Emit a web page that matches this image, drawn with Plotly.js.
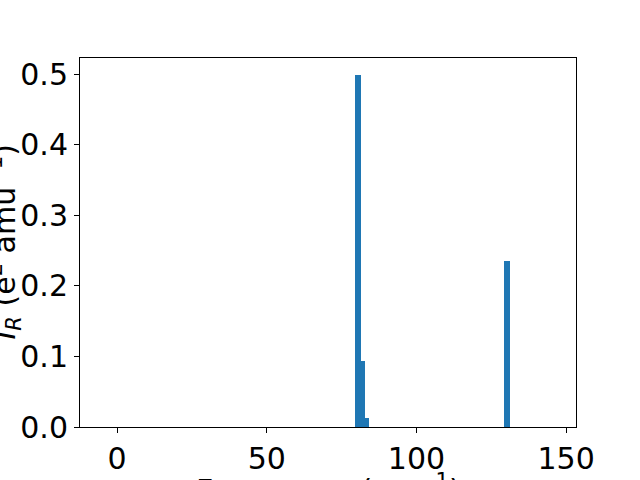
<!DOCTYPE html>
<html>
<head>
<meta charset="utf-8">
<script src="https://cdn.plot.ly/plotly-3.0.1.min.js"></script>
<style>html,body{margin:0;padding:0;background:#fff;}#chart{width:640px;height:480px;}</style>
</head>
<body>
<div id="chart"></div>
<script>
// Frequencies (cm^-1) and IR intensities
const frequencies = [80.5, 82.2, 83.5, 130.3];
const intensities = [0.498, 0.0935, 0.0127, 0.235];
const barWidths = [2.0, 1.4, 1.4, 2.0];
const xTicks = [0, 50, 100, 150];
const yTicks = [0.0, 0.1, 0.2, 0.3, 0.4, 0.5];
const xTitle = 'Frequency (cm<sup>−1</sup>)';
const yTitle = '<i>I</i><sub><i>R</i></sub> (e<sup>2</sup> amu<sup>−1</sup>)';

const font = {family: 'DejaVu Sans', size: 30, color: '#000'};

const axisStyle = {
  ticks: 'outside', ticklen: 5, tickwidth: 1, tickcolor: '#000',
  showline: true, linecolor: '#000', linewidth: 1, mirror: true,
  showgrid: false, zeroline: false,
  tickfont: font,
  automargin: false
};

Plotly.newPlot('chart', [{
  type: 'bar',
  x: frequencies,
  y: intensities,
  width: barWidths,
  marker: {color: '#1f77b4', line: {width: 0}},
  hoverinfo: 'x+y'
}], {
  width: 640, height: 480,
  margin: {l: 80, r: 64, t: 58, b: 53},
  paper_bgcolor: '#fff', plot_bgcolor: '#fff',
  font: font,
  showlegend: false,
  bargap: 0,
  xaxis: Object.assign({
    range: [-12.4, 153.3],
    tickvals: xTicks,
    ticktext: xTicks.map(String)
  }, axisStyle),
  yaxis: Object.assign({
    range: [0, 0.5227],
    tickvals: yTicks,
    ticktext: yTicks.map(v => v.toFixed(1))
  }, axisStyle),
  annotations: [
    {text: xTitle, xref: 'paper', yref: 'paper', x: 0.5, y: 0,
     xanchor: 'center', yanchor: 'middle', yshift: -61,
     showarrow: false, font: font, borderpad: 0},
    {text: yTitle, xref: 'paper', yref: 'paper', x: 0, y: 0.5,
     xanchor: 'center', yanchor: 'middle', xshift: -75, textangle: -90,
     showarrow: false, font: font, borderpad: 0}
  ]
}, {staticPlot: true});
</script>
</body>
</html>
